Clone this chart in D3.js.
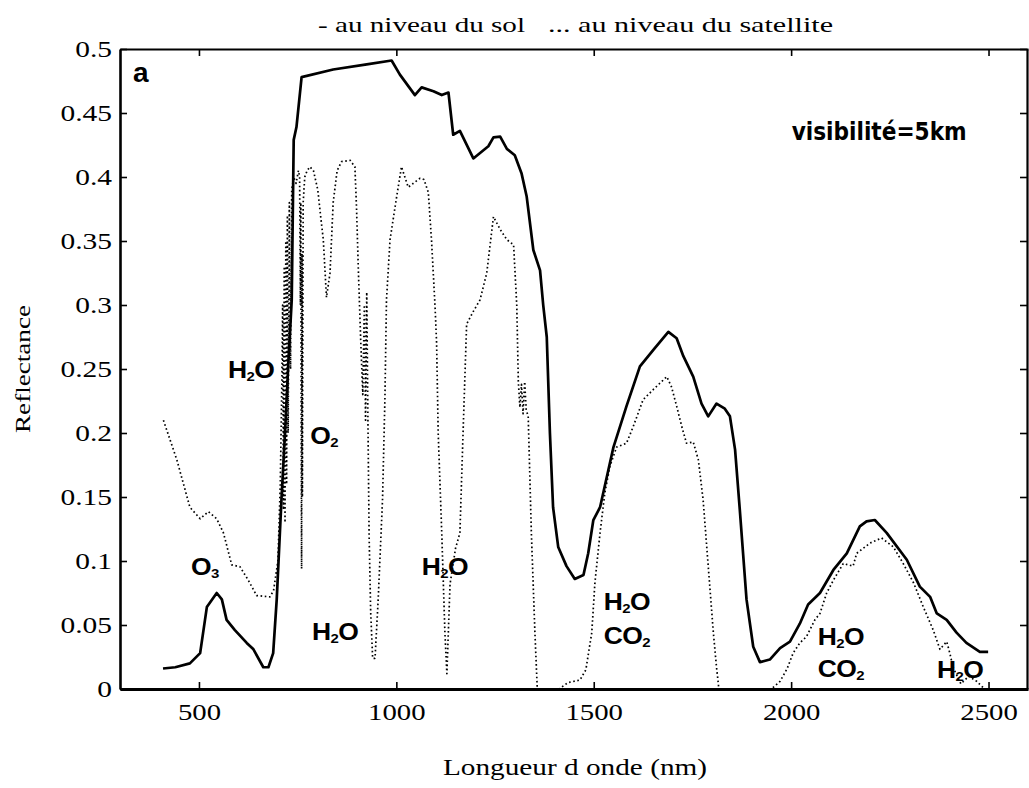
<!DOCTYPE html>
<html><head><meta charset="utf-8">
<script src="https://cdn.jsdelivr.net/npm/d3@7"></script>
<style>body{margin:0;background:#fff}</style>
</head><body>
<svg id="c" width="1029" height="788"></svg>
<script>
// ---- data ----
const groundWl = [409,440,477,503,520,545,558,570,591,621,638,663,676,688,697,709,718,726,735,740,747,760,840,925,988,1009,1047,1064,1094,1115,1132,1144,1161,1195,1233,1246,1263,1280,1300,1317,1330,1347,1364,1372,1381,1389,1397,1410,1431,1452,1474,1486,1499,1516,1550,1583,1617,1651,1689,1710,1727,1752,1773,1790,1811,1832,1845,1858,1870,1887,1904,1921,1946,1972,1997,2022,2043,2073,2107,2141,2174,2191,2212,2242,2293,2326,2352,2369,2394,2419,2444,2478,2499];
const groundR  = [0.016,0.017,0.020,0.028,0.064,0.075,0.070,0.054,0.046,0.036,0.031,0.017,0.017,0.028,0.070,0.148,0.200,0.252,0.304,0.429,0.439,0.478,0.484,0.488,0.491,0.480,0.464,0.470,0.467,0.464,0.466,0.433,0.436,0.4145,0.424,0.431,0.4315,0.422,0.417,0.403,0.385,0.343,0.327,0.300,0.275,0.200,0.142,0.111,0.096,0.086,0.089,0.106,0.132,0.142,0.189,0.221,0.252,0.265,0.279,0.274,0.260,0.244,0.223,0.213,0.223,0.219,0.213,0.187,0.140,0.070,0.033,0.021,0.023,0.032,0.037,0.051,0.066,0.075,0.093,0.106,0.127,0.131,0.132,0.122,0.101,0.080,0.072,0.059,0.054,0.044,0.036,0.029,0.029];

const satWl = [410,444,477,503,524,545,562,583,604,625,646,680,689,700,706,710,712,714,716,718,720,722,724,726,729,732,735,740,746,752,755,757,758,759,760,761,762,764,768,774,781,790,801,808,815,823,832,840,850,861,883,895,899,904,910,915,919,922,925,928,931,935,940,946,954,965,971,975,984,1001,1013,1030,1060,1070,1081,1089,1098,1102,1106,1115,1123,1128,1136,1150,1161,1169,1178,1195,1212,1229,1246,1263,1280,1297,1305,1309,1313,1317,1321,1325,1329,1334,1342,1351,1357,1412,1435,1465,1480,1495,1503,1516,1528,1541,1558,1583,1600,1625,1651,1685,1697,1710,1723,1735,1752,1765,1777,1790,1803,1811,1817,1950,1972,1990,2005,2022,2039,2060,2073,2090,2107,2132,2157,2166,2200,2229,2259,2284,2310,2335,2360,2377,2394,2402,2410,2430,2450,2470,2490];
const satR  = [0.210,0.179,0.142,0.133,0.1385,0.133,0.122,0.097,0.0955,0.085,0.073,0.072,0.077,0.100,0.160,0.240,0.300,0.140,0.330,0.130,0.350,0.160,0.370,0.200,0.380,0.250,0.390,0.400,0.395,0.405,0.400,0.300,0.380,0.200,0.094,0.340,0.150,0.380,0.400,0.405,0.408,0.405,0.390,0.370,0.351,0.306,0.325,0.380,0.405,0.412,0.413,0.408,0.377,0.325,0.270,0.230,0.300,0.210,0.310,0.210,0.120,0.060,0.024,0.024,0.070,0.148,0.226,0.304,0.351,0.385,0.408,0.392,0.399,0.398,0.388,0.351,0.299,0.270,0.200,0.122,0.044,0.012,0.082,0.110,0.122,0.200,0.285,0.295,0.304,0.325,0.369,0.359,0.351,0.347,0.300,0.240,0.220,0.238,0.215,0.240,0.218,0.213,0.122,0.044,0.000,0.000,0.005,0.007,0.015,0.044,0.083,0.122,0.153,0.174,0.189,0.192,0.205,0.226,0.234,0.244,0.236,0.221,0.205,0.192,0.193,0.179,0.148,0.096,0.044,0.017,0.000,0.000,0.006,0.016,0.028,0.036,0.041,0.054,0.059,0.075,0.085,0.098,0.096,0.106,0.114,0.118,0.111,0.098,0.083,0.064,0.046,0.031,0.037,0.028,0.017,0.004,0.010,0.006,0.000];

const xTicks = [500,1000,1500,2000,2500];
const yTicks = [0,0.05,0.1,0.15,0.2,0.25,0.3,0.35,0.4,0.45,0.5];
const yTickLabels = ["0","0.05","0.1","0.15","0.2","0.25","0.3","0.35","0.4","0.45","0.5"];

const titleParts = ["- au niveau du sol", "... au niveau du satellite"];
const xTitle = "Longueur d onde (nm)";
const yTitle = "Reflectance";
const panelLetter = "a";
const visText = "visibilité=5km";
// absorption labels: [main, subscript, tail, wavelength, reflectance]
const gasLabels = [
  ["H","2","O",632,0.250],
  ["O","2","",817,0.198],
  ["O","3","",515,0.096],
  ["H","2","O",845,0.045],
  ["H","2","O",1123,0.096],
  ["H","2","O",1584,0.068],
  ["CO","2","",1584,0.042],
  ["H","2","O",2126,0.041],
  ["CO","2","",2126,0.016],
  ["H","2","O",2428,0.015]
];

// ---- drawing ----
const svg = d3.select("#c");
const x = d3.scaleLinear().domain([300,2600]).range([120,1028]);
const y = d3.scaleLinear().domain([0,0.5]).range([689,49]);

function stretch(sel, k){
  sel.each(function(){
    const w = this.getComputedTextLength();
    this.setAttribute("textLength", w*k);
    this.setAttribute("lengthAdjust","spacingAndGlyphs");
  });
}
function fixLen(sel, L){
  sel.attr("textLength", L).attr("lengthAdjust","spacingAndGlyphs");
}

const serif = "'Liberation Serif','Times New Roman',serif";
const sans = "'Liberation Sans',Arial,sans-serif";

// axes
const gB = svg.append("g").attr("transform","translate(0,689)")
  .call(d3.axisBottom(x).tickValues(xTicks).tickSize(-7).tickSizeOuter(0).tickPadding(15).tickFormat(d3.format("d")));
const gT = svg.append("g").attr("transform","translate(0,49)")
  .call(d3.axisTop(x).tickValues(xTicks).tickSize(-7).tickSizeOuter(0).tickFormat(""));
const gL = svg.append("g").attr("transform","translate(120,0)")
  .call(d3.axisLeft(y).tickValues(yTicks).tickSize(-7).tickSizeOuter(0).tickPadding(8)
     .tickFormat((d,i)=>yTickLabels[i]));
const gR = svg.append("g").attr("transform","translate(1027,0)")
  .call(d3.axisRight(y).tickValues(yTicks).tickSize(-7).tickSizeOuter(0).tickFormat(""));

[gB,gT,gL,gR].forEach(g=>{
  g.selectAll(".domain").attr("stroke","#000").attr("stroke-width",2.2);
  g.selectAll(".tick line").attr("stroke","#000").attr("stroke-width",1.6);
  g.selectAll("text").attr("font-family",serif).attr("font-size",23).attr("fill","#000");
});
gB.select(".domain").attr("stroke-width",3);
gL.select(".domain").attr("stroke-width",2.6);
stretch(gB.selectAll("text"),1.25);
stretch(gL.selectAll("text"),1.28);

// lines
const line = d3.line().x(d=>x(d[0])).y(d=>y(d[1]));
const ground = groundWl.map((w,i)=>[w,groundR[i]]);
const sat = satWl.map((w,i)=>[w,satR[i]]);

svg.append("path").datum(sat).attr("d",line)
  .attr("fill","none").attr("stroke","#000").attr("stroke-width",1.7)
  .attr("stroke-dasharray","1.6,2.6").attr("stroke-linejoin","round");
svg.append("path").datum(ground).attr("d",line)
  .attr("fill","none").attr("stroke","#000").attr("stroke-width",2.7)
  .attr("stroke-linejoin","round");

// titles
const t1 = svg.append("text").attr("x",318).attr("y",32).attr("font-family",serif).attr("font-size",22).text(titleParts[0]);
fixLen(t1,207);
const t2 = svg.append("text").attr("x",548).attr("y",32).attr("font-family",serif).attr("font-size",22).text(titleParts[1]);
fixLen(t2,285);

const xt = svg.append("text").attr("x",575).attr("y",775).attr("text-anchor","middle")
  .attr("font-family",serif).attr("font-size",24).text(xTitle);
fixLen(xt,264);

const yt = svg.append("text").attr("transform","translate(30,369) rotate(-90)").attr("text-anchor","middle")
  .attr("font-family",serif).attr("font-size",22).text(yTitle);
fixLen(yt,128);

// panel letter
svg.append("text").attr("x",x(333)).attr("y",y(0.474)).attr("font-family",sans).attr("font-weight","bold")
  .attr("font-size",28).text(panelLetter);

// visibility
const vt = svg.append("text").attr("x",x(2223)).attr("y",y(0.429)).attr("text-anchor","middle")
  .attr("font-family","'Liberation Sans Narrow','DejaVu Sans Condensed',sans-serif").attr("font-weight","bold")
  .attr("font-size",25).text(visText);
fixLen(vt,175);

// gas labels
gasLabels.forEach(([a,s,b,w,r])=>{
  const t = svg.append("text").attr("x",x(w)).attr("y",y(r)+8.5).attr("text-anchor","middle")
    .attr("font-family",sans).attr("font-weight","bold").attr("font-size",23).attr("letter-spacing",-0.5);
  t.append("tspan").text(a);
  t.append("tspan").attr("font-size",13).attr("dy",3).text(s);
  if(b) t.append("tspan").attr("dy",-3).text(b);
  stretch(t,1.15);
});
</script>
</body></html>
